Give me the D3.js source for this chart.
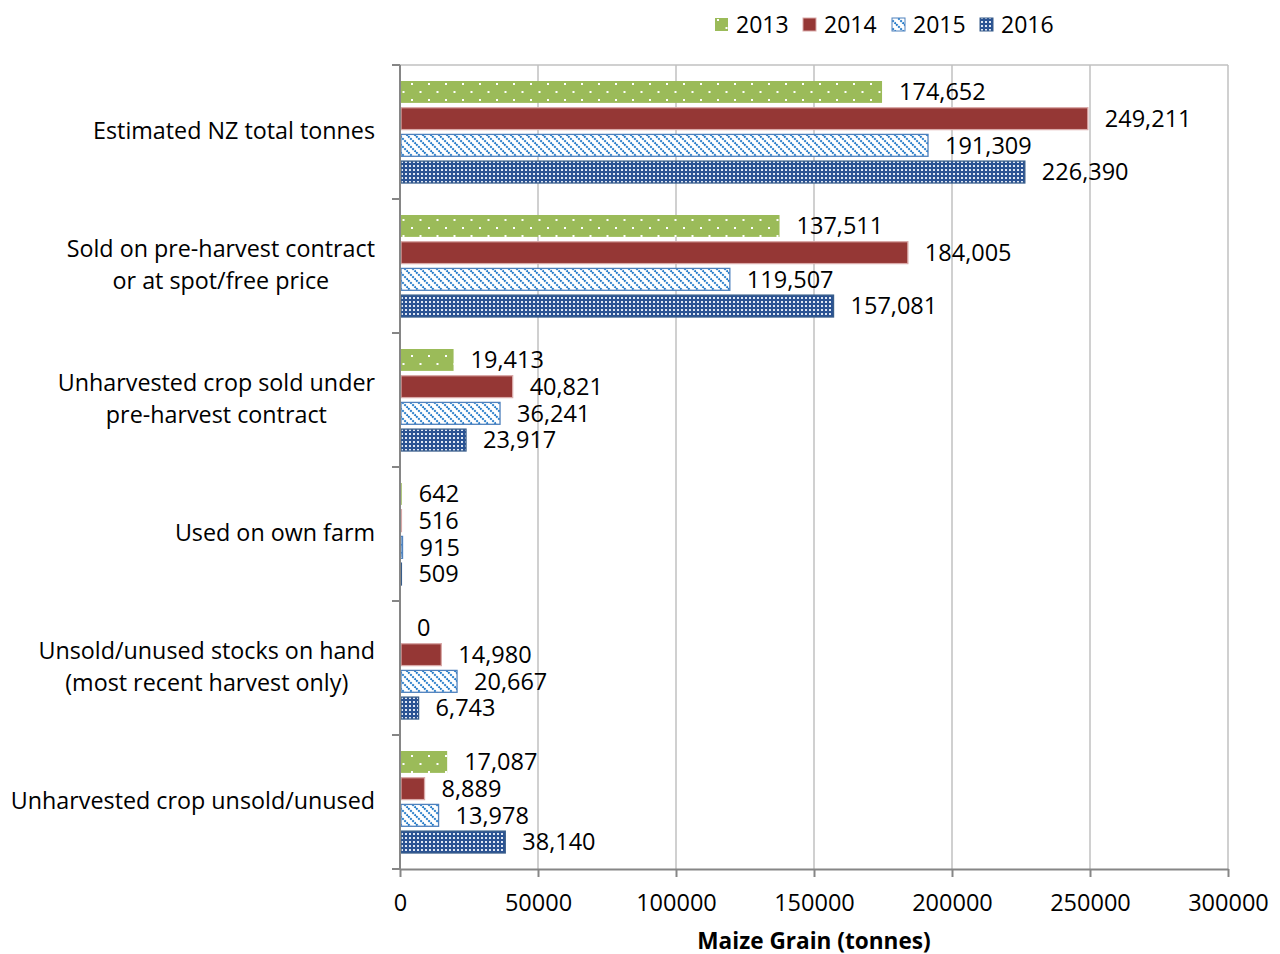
<!DOCTYPE html>
<html><head><meta charset="utf-8">
<script src="https://cdn.jsdelivr.net/npm/d3@7"></script>
<style>body{margin:0;background:#fff}text{font-family:"Open Sans",sans-serif;fill:#000}</style>
</head><body><svg id="c" width="1280" height="954"></svg>
<script>
const categories = [
  ["Estimated NZ total tonnes"],
  ["Sold on pre-harvest contract","or at spot/free price"],
  ["Unharvested crop sold under","pre-harvest contract"],
  ["Used on own farm"],
  ["Unsold/unused stocks on hand","(most recent harvest only)"],
  ["Unharvested crop unsold/unused"]
];
const years = ["2013","2014","2015","2016"];
const v2013 = [174652,137511,19413,642,0,17087];
const v2014 = [249211,184005,40821,516,14980,8889];
const v2015 = [191309,119507,36241,915,20667,13978];
const v2016 = [226390,157081,23917,509,6743,38140];
const xTicks = [0,50000,100000,150000,200000,250000,300000];
const series = {"2013":v2013,"2014":v2014,"2015":v2015,"2016":v2016};

const svg = d3.select("#c");
const defs = svg.append("defs");
// patterns
const p13 = defs.append("pattern").attr("id","p2013").attr("patternUnits","userSpaceOnUse").attr("width",17).attr("height",16);
p13.append("rect").attr("width",17).attr("height",16).attr("fill","#9BBB59");
p13.append("rect").attr("x",3).attr("y",3).attr("width",2).attr("height",2).attr("fill","#fff");
p13.append("rect").attr("x",11.5).attr("y",11).attr("width",2).attr("height",2).attr("fill","#fff");
const p15 = defs.append("pattern").attr("id","p2015").attr("patternUnits","userSpaceOnUse").attr("width",8).attr("height",8);
p15.append("rect").attr("width",8).attr("height",8).attr("fill","#fff");
p15.append("path").attr("d","M-2,-2L10,10M-2,6L2,10M6,-2L10,2").attr("stroke","#1f78c8").attr("stroke-width",2).attr("stroke-dasharray","2,1");
const p16 = defs.append("pattern").attr("id","p2016").attr("patternUnits","userSpaceOnUse").attr("width",4).attr("height",4);
p16.append("rect").attr("width",4).attr("height",4).attr("fill","#2B5393");
p16.append("rect").attr("x",1).attr("y",1).attr("width",2).attr("height",2).attr("fill","#dfe7f3");

const fills = {"2013":"url(#p2013)","2014":"#953735","2015":"url(#p2015)","2016":"url(#p2016)"};
const strokes = {"2013":"none","2014":"#d9a9a8","2015":"#4F81BD","2016":"#385D8A"};

const x = d3.scaleLinear().domain([0,300000]).range([400,1228]);
const y = d3.scaleBand().domain(d3.range(categories.length)).range([65,869]);
const yi = d3.scaleBand().domain(years).range([16,118]).paddingInner(0.18);

// gridlines
svg.append("g").selectAll("line").data(xTicks.slice(1)).join("line")
  .attr("x1",d=>x(d)).attr("x2",d=>x(d)).attr("y1",65).attr("y2",869)
  .attr("stroke","#c0c0c0").attr("stroke-width",1.5);
svg.append("line").attr("x1",392).attr("x2",1228).attr("y1",65).attr("y2",65).attr("stroke","#c0c0c0").attr("stroke-width",1.5);

// bars
years.forEach(yr=>{
  const g = svg.append("g");
  g.selectAll("rect").data(series[yr]).join("rect")
    .attr("x",x(0)+1).attr("y",(d,i)=>y(i)+yi(yr))
    .attr("width",d=>Math.max(0,x(d)-x(0)-1)).attr("height",yi.bandwidth())
    .attr("fill",fills[yr]).attr("stroke",d=>d>0?strokes[yr]:"none").attr("stroke-width",1.3);
  g.selectAll("text").data(series[yr]).join("text")
    .attr("x",d=>x(d)+17).attr("y",(d,i)=>y(i)+yi(yr)+yi.bandwidth()/2)
    .attr("dy","0.35em").attr("font-size",23.5).text(d=>d3.format(",")(d));
});

// axes
const xAxis = d3.axisBottom(x).tickValues(xTicks).tickFormat(d=>d).tickSizeOuter(0).tickSizeInner(8).tickPadding(17);
const ga = svg.append("g").attr("transform","translate(0,869)").call(xAxis);
ga.select(".domain").attr("stroke","#868686").attr("stroke-width",2);
ga.selectAll(".tick line").attr("stroke","#868686").attr("stroke-width",2);
ga.selectAll(".tick text").attr("font-size",23.5).attr("font-family","Open Sans").attr("fill","#000");

const gy = svg.append("g").attr("transform","translate(400,0)");
gy.append("line").attr("x1",0).attr("x2",0).attr("y1",65).attr("y2",869).attr("stroke","#868686").attr("stroke-width",2);
gy.selectAll("line.t").data(d3.range(categories.length+1)).join("line").attr("class","t")
  .attr("x1",-8).attr("x2",0).attr("y1",d=>65+d*y.step()).attr("y2",d=>65+d*y.step())
  .attr("stroke","#868686").attr("stroke-width",2);

// category labels
categories.forEach((lines,i)=>{
  const cy = y(i)+y.bandwidth()/2 - 1;
  const t = svg.append("text").attr("font-size",23.3).attr("text-anchor","middle");
  const lh = 32.5;
  lines.forEach((l,j)=>{
    t.append("tspan").attr("x",0).attr("y",cy+(j-(lines.length-1)/2)*lh).attr("dy","0.35em").text(l);
  });
  let maxW = 0;
  t.selectAll("tspan").each(function(){maxW=Math.max(maxW,this.getComputedTextLength());});
  t.selectAll("tspan").attr("x",375-maxW/2);
});

// axis title
svg.append("text").attr("x",814).attr("y",941).attr("dy","0.35em").attr("text-anchor","middle")
  .attr("font-size",22.6).attr("font-weight","bold").text("Maize Grain (tonnes)");

// legend
const leg = svg.append("g");
const lx = [715,803,892,980];
years.forEach((yr,i)=>{
  leg.append("rect").attr("x",lx[i]).attr("y",18).attr("width",13).attr("height",13)
    .attr("fill",fills[yr]).attr("stroke",strokes[yr]==="none"?"none":strokes[yr]).attr("stroke-width",1);
  leg.append("text").attr("x",lx[i]+21).attr("y",25).attr("dy","0.35em").attr("font-size",23).text(yr);
});
</script></body></html>
